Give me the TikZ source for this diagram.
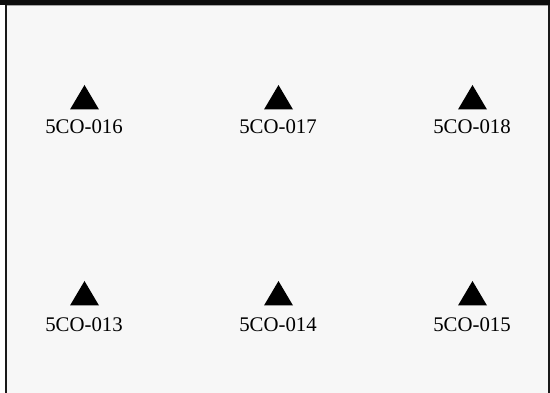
\documentclass[tikz,border=0pt]{standalone}
\usepackage{fontspec}
\setmainfont{Liberation Serif}
\begin{document}
\begin{tikzpicture}[x=1pt,y=-1pt,
  tri/.style={fill=black,draw=none},
  lbl/.style={font=\fontsize{20.8}{23}\selectfont,inner sep=0pt,anchor=base}]
\useasboundingbox (0,0) rectangle (550,393);
\fill[white] (0,0) rectangle (550,393);
\fill[black!3] (6,6) rectangle (548,393);
\fill[black!95] (0,0) rectangle (550,5.3);
\draw[black!35,line width=1pt] (6,5.8) -- (548,5.8);
\draw[black!90,line width=2pt] (6,5) -- (6,393);
\draw[black!90,line width=2pt] (549,5) -- (549,393);
\foreach \n/\x/\y/\b in {016/84/85/134,017/278/85/134,018/472/85/134,013/84/281/331.5,014/278/281/331.5,015/472/281/331.5}{
  \fill[tri] (\x+0.5,\y) -- (\x+15,\y+24.5) -- (\x-14,\y+24.5) -- cycle;
  \node[lbl] (l\n) at (\x,\b) {5CO-\n};
}
\end{tikzpicture}
\end{document}
